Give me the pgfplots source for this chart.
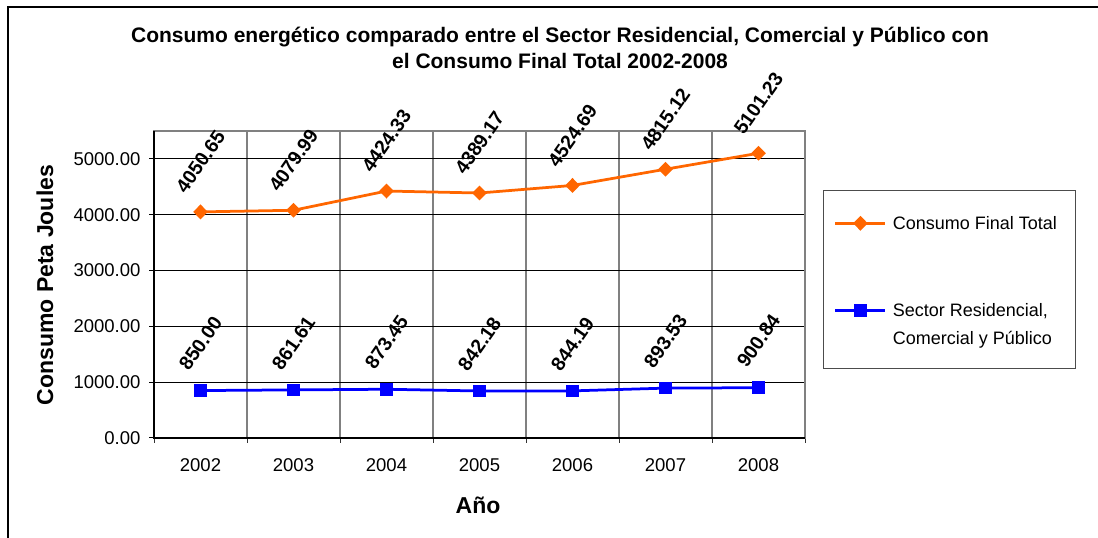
\documentclass[border=0pt]{standalone}
\usepackage{pgfplots}
\pgfplotsset{compat=1.18}
\usepackage{pgfplotstable}
\usepackage{fontspec}
\setmainfont{Liberation Sans}
\definecolor{naranja}{RGB}{255,102,0}
\definecolor{azul}{RGB}{0,0,255}

\pgfplotstableread{
x y lab
0 4050.65 4050.65
1 4079.99 4079.99
2 4424.33 4424.33
3 4389.17 4389.17
4 4524.69 4524.69
5 4815.12 4815.12
6 5101.23 5101.23
}\total
\pgfplotstableread{
x y lab
0 850.00 850.00
1 861.61 861.61
2 873.45 873.45
3 842.18 842.18
4 844.19 844.19
5 893.53 893.53
6 900.84 900.84
}\residencial

\begin{document}
\begin{tikzpicture}[x=1pt,y=1pt]
\useasboundingbox (0,0) rectangle (1098,538);
\draw[line width=2pt] (8,0) -- (8,531) -- (1099,531);
\begin{axis}[
  at={(154pt,100pt)}, anchor=south west,
  scale only axis, width=651pt, height=307pt,
  xmin=-0.5, xmax=6.5, ymin=0, ymax=5500,
  xtick={0,1,2,3,4,5,6},
  xticklabels={2002,2003,2004,2005,2006,2007,2008},
  minor xtick={-0.5,0.5,1.5,2.5,3.5,4.5,5.5,6.5},
  ytick={0,1000,2000,3000,4000,5000},
  yticklabels={0.00,1000.00,2000.00,3000.00,4000.00,5000.00},
  tick align=outside, xtick pos=bottom, ytick pos=left,
  major tick length=5pt, minor tick length=5pt,
  major x tick style={draw=none},
  minor x tick style={black!80, line width=1pt},
  major y tick style={black, line width=1pt},
  ymajorgrids, xminorgrids,
  major y grid style={black, line width=1pt},
  minor x grid style={black!50, line width=1.5pt},
  axis line style={black!50, line width=1.5pt},
  tick label style={font=\fontsize{18.5}{20}\selectfont},
  xticklabel style={yshift=-12pt},
  yticklabel style={xshift=-5pt},
  title={Consumo energético comparado entre el Sector Residencial, Comercial y Público con\\el Consumo Final Total 2002-2008},
  title style={at={(axis description cs:0.6237,1.251)}, anchor=center, align=center,
    font=\bfseries\fontsize{21}{26}\selectfont},
  xlabel={Año},
  xlabel style={at={(axis description cs:0.4977,-0.218)}, anchor=center,
    font=\bfseries\fontsize{23}{26}\selectfont},
  ylabel={Consumo Peta Joules},
  ylabel style={at={(axis description cs:-0.1674,0.498)}, anchor=center,
    font=\bfseries\fontsize{23}{26}\selectfont},
  clip=false,
  legend cell align=left,
  legend style={at={(rel axis cs:1.029,0.806)}, anchor=north west,
    draw=none, fill=none,
    font=\fontsize{18}{25}\selectfont,
    nodes={anchor=base west, inner xsep=6pt},
    row sep=64pt,
    inner xsep=10pt, inner ysep=24pt},
  legend image code/.code={\draw[mark repeat=2,mark phase=2,#1]
    plot coordinates {(0pt,6.5pt) (25pt,6.5pt) (50pt,6.5pt)};},
  after end axis/.code={
    \draw[black, line width=1.5pt] (rel axis cs:0,1) -- (rel axis cs:0,0) -- (rel axis cs:1,0);
    \draw[black!70, line width=1pt] (rel axis cs:1.029,0.806) rectangle ++(252pt,-178pt);
  },
]
\addplot[naranja, line width=2.75pt, mark=diamond*, mark size=5.5pt,
  mark options={xscale=1.3, solid},
  nodes near coords, point meta=explicit symbolic,
  every node near coord/.style={text=black, anchor=center, yshift=50pt, rotate=55,
    font=\bfseries\fontsize{19.5}{20}\selectfont}]
  table[x=x, y=y, meta=lab] {\total};
\addlegendentry{Consumo Final Total}
\addplot[azul, line width=2.75pt, mark=square*, mark size=5pt,
  mark options={solid},
  nodes near coords, point meta=explicit symbolic,
  every node near coord/.style={text=black, anchor=center, yshift=47pt, rotate=55,
    font=\bfseries\fontsize{19.5}{20}\selectfont}]
  table[x=x, y=y, meta=lab] {\residencial};
\addlegendentry{\begin{tabular}[t]{@{}l@{}}Sector Residencial,\\[3pt]Comercial y Público\end{tabular}}
\end{axis}
\end{tikzpicture}
\end{document}
